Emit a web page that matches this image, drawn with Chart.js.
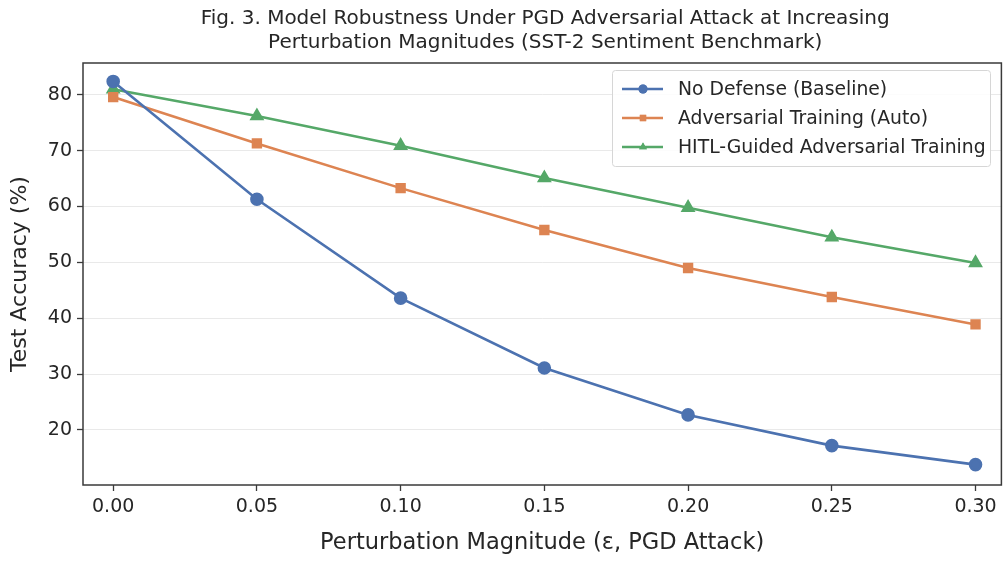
<!DOCTYPE html>
<html>
<head>
<meta charset="utf-8">
<script src="https://cdn.jsdelivr.net/npm/chart.js@4.4.1/dist/chart.umd.min.js"></script>
<style>
  html, body { margin: 0; padding: 0; background: #fff; overflow: hidden; }
  #wrap { width: 1010px; height: 561px; }
</style>
</head>
<body>
<div id="wrap"><canvas id="graphique"></canvas></div>
<script>
// valeurs
var epsilons = [0.00, 0.05, 0.10, 0.15, 0.20, 0.25, 0.30];
var baseline = [82.4, 61.3, 43.6, 31.1, 22.7, 17.2, 13.8];
var advAuto = [79.6, 71.3, 63.3, 55.8, 49.0, 43.8, 38.9];
var hitl = [81.0, 76.2, 70.9, 65.1, 59.8, 54.5, 49.9];
var yTicks = [20, 30, 40, 50, 60, 70, 80];
var xTicks = [0.00, 0.05, 0.10, 0.15, 0.20, 0.25, 0.30];
var seriesNames = ["No Defense (Baseline)", "Adversarial Training (Auto)", "HITL-Guided Adversarial Training"];
var titre = ["Fig. 3. Model Robustness Under PGD Adversarial Attack at Increasing",
             "Perturbation Magnitudes (SST-2 Sentiment Benchmark)"];

var police = "DejaVu Sans";
var couleurs = ["#4c72b0", "#dd8452", "#55a868"];
var marqueurs = ["circle", "rect", "triangle"];

function points(valeurs) {
    return epsilons.map(function(e, i) { return { x: e, y: valeurs[i] }; });
}

function serie(i, valeurs) {
    return {
        label: seriesNames[i],
        data: points(valeurs),
        borderColor: couleurs[i],
        backgroundColor: couleurs[i],
        borderWidth: 2.6,
        pointStyle: marqueurs[i],
        pointRadius: i == 2 ? 6 : 5.5,
        pointHoverRadius: 5.5,
        tension: 0
    };
}

// titre, cadre + legende facon matplotlib
var cadreLegende = {
    id: "cadreLegende",
    afterDatasetsDraw: function(chart) {
        var ctx = chart.ctx;
        var a = chart.chartArea;
        ctx.save();
        ctx.strokeStyle = "#3a3a3a";
        ctx.lineWidth = 1.5;
        ctx.strokeRect(a.left, a.top, a.right - a.left, a.bottom - a.top);

        ctx.fillStyle = "#262626";
        ctx.font = "20px '" + police + "'";
        ctx.textAlign = "center";
        ctx.textBaseline = "middle";
        var cx = (a.left + a.right) / 2 + 3;
        ctx.fillText(titre[0], cx, 19);
        ctx.fillText(titre[1], cx, 43);

        var lx = 612, ly = 70, lw = 378, lh = 96;
        ctx.fillStyle = "rgba(255,255,255,0.85)";
        ctx.strokeStyle = "#d6d6d6";
        ctx.lineWidth = 1;
        ctx.beginPath();
        ctx.roundRect(lx + 0.5, ly + 0.5, lw, lh, 3);
        ctx.fill();
        ctx.stroke();

        ctx.font = "18.8px '" + police + "'";
        ctx.textAlign = "left";
        for (var i = 0; i < 3; i++) {
            var yy = ly + 19 + i * 29;
            ctx.strokeStyle = couleurs[i];
            ctx.lineWidth = 2.6;
            ctx.beginPath();
            ctx.moveTo(lx + 10, yy);
            ctx.lineTo(lx + 51, yy);
            ctx.stroke();
            ctx.fillStyle = couleurs[i];
            Chart.helpers.drawPoint(ctx, { pointStyle: marqueurs[i], radius: 4.5, rotation: 0, borderWidth: 0 }, lx + 31, yy);
            ctx.fill();
            ctx.fillStyle = "#262626";
            ctx.fillText(seriesNames[i], lx + 66, yy + 1);
        }
        ctx.restore();
    }
};

var ctx = document.getElementById("graphique").getContext("2d");
var chart = new Chart(ctx, {
    type: "line",
    data: {
        datasets: [serie(0, baseline), serie(1, advAuto), serie(2, hitl)]
    },
    options: {
        responsive: true,
        maintainAspectRatio: false,
        animation: false,
        layout: { padding: { left: 0, right: 2, top: 63, bottom: 0 } },
        plugins: {
            legend: { display: false },
            tooltip: { enabled: false },
            title: { display: false }
        },
        scales: {
            x: {
                type: "linear",
                min: -0.0105,
                max: 0.309,
                afterBuildTicks: function(scale) {
                    scale.ticks = xTicks.map(function(v) { return { value: v }; });
                },
                afterFit: function(scale) {
                    scale.height = 76;
                },
                ticks: {
                    color: "#262626",
                    font: { family: police, size: 19 },
                    padding: 5,
                    maxRotation: 0,
                    callback: function(v) { return v.toFixed(2); }
                },
                grid: { drawOnChartArea: false, tickLength: 6, tickColor: "#3a3a3a", tickWidth: 1.3 },
                border: { display: false },
                title: {
                    display: true,
                    text: "Perturbation Magnitude (ε, PGD Attack)",
                    color: "#262626",
                    font: { family: police, size: 22.5 },
                    padding: { top: 0, bottom: 4 }
                }
            },
            y: {
                min: 10.15,
                max: 85.7,
                afterBuildTicks: function(scale) {
                    scale.ticks = yTicks.map(function(v) { return { value: v }; });
                },
                afterFit: function(scale) {
                    scale.width = 83;
                },
                ticks: {
                    color: "#262626",
                    font: { family: police, size: 19 },
                    padding: 5
                },
                grid: { color: "#e9e9e9", lineWidth: 1, tickLength: 6, tickColor: "#3a3a3a", tickWidth: 1.3 },
                border: { display: false },
                title: {
                    display: true,
                    text: "Test Accuracy (%)",
                    color: "#262626",
                    font: { family: police, size: 22 },
                    padding: { top: 7, bottom: 0 }
                }
            }
        }
    },
    plugins: [cadreLegende]
});
</script>
</body>
</html>
